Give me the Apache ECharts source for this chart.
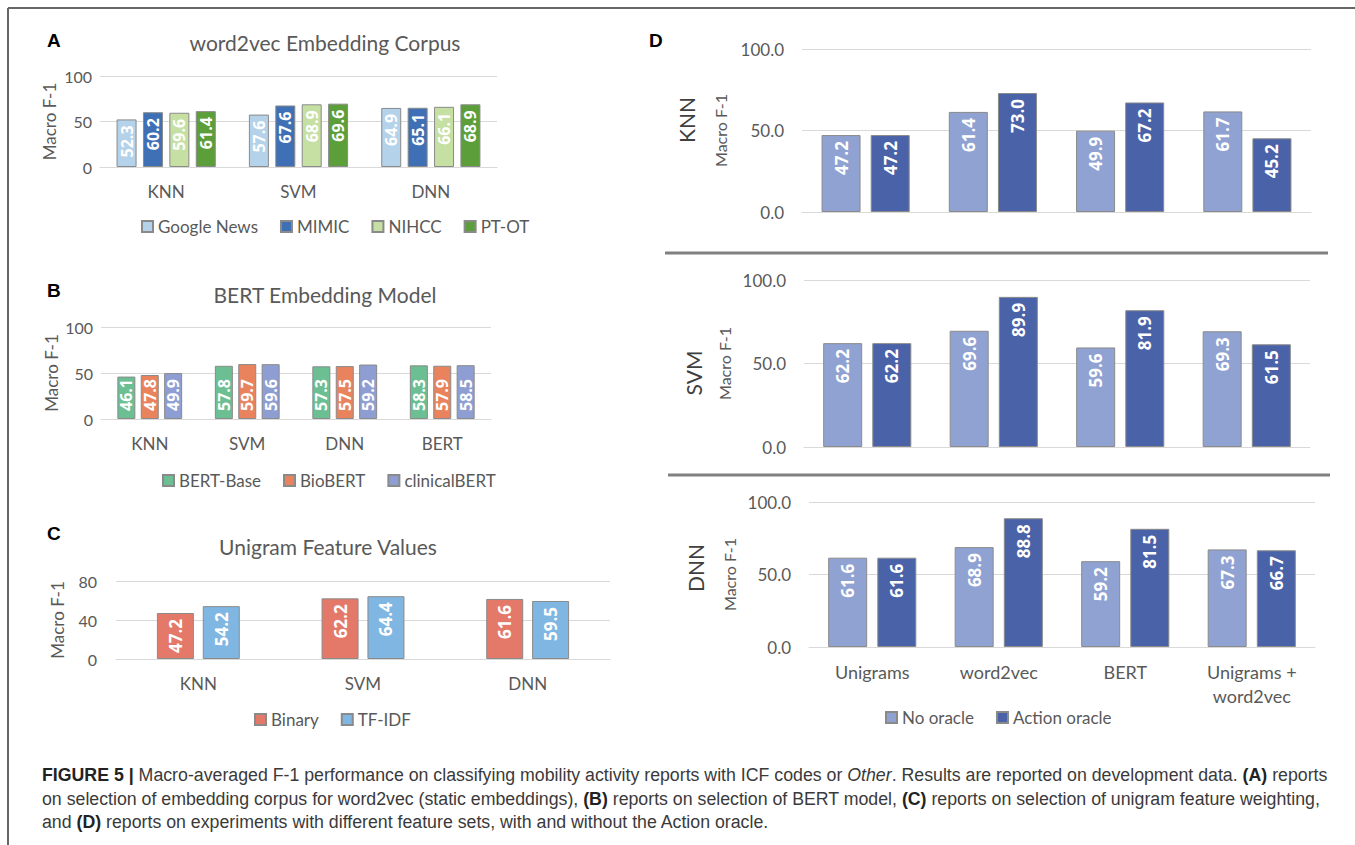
<!DOCTYPE html>
<html>
<head>
<meta charset="utf-8">
<script src="https://cdn.jsdelivr.net/npm/echarts@6/dist/echarts.min.js"></script>
<style>
  html, body { margin: 0; padding: 0; background: #fff; }
  #wrap { position: relative; width: 1355px; height: 845px; overflow: hidden; }
  #chart { position: absolute; left: 0; top: 0; width: 1355px; height: 845px; }
  #caption { position: absolute; left: 42px; top: 764px; font-family: "Liberation Sans", Arial, sans-serif;
             color: #3a3a3a; font-size: 16px; line-height: 23.5px; }
  #caption div { white-space: nowrap; }
  #caption b { font-weight: bold; color: #222; }
</style>
</head>
<body>
<div id="wrap">
  <div id="chart"></div>
  <div id="caption">
    <div id="capLine1"><b>FIGURE 5 |</b> Macro-averaged F-1 performance on classifying mobility activity reports with ICF codes or <i>Other</i>. Results are reported on development data. <b>(A)</b> reports</div>
    <div>on selection of embedding corpus for word2vec (static embeddings), <b>(B)</b> reports on selection of BERT model, <b>(C)</b> reports on selection of unigram feature weighting,</div>
    <div>and <b>(D)</b> reports on experiments with different feature sets, with and without the Action oracle.</div>
  </div>
</div>
<script>
// ---------- DATA ----------
const A_categories = ['KNN', 'SVM', 'DNN'];
const A_googleNews = [52.3, 57.6, 64.9];
const A_mimic      = [60.2, 67.6, 65.1];
const A_nihcc      = [59.6, 68.9, 66.1];
const A_ptot       = [61.4, 69.6, 68.9];
const A_yTicks     = [0, 50, 100];

const B_categories   = ['KNN', 'SVM', 'DNN', 'BERT'];
const B_bertBase     = [46.1, 57.8, 57.3, 58.3];
const B_bioBert      = [47.8, 59.7, 57.5, 57.9];
const B_clinicalBert = [49.9, 59.6, 59.2, 58.5];
const B_yTicks       = [0, 50, 100];

const C_categories = ['KNN', 'SVM', 'DNN'];
const C_binary     = [47.2, 62.2, 61.6];
const C_tfidf      = [54.2, 64.4, 59.5];
const C_yTicks     = [0, 40, 80];

const D_categories     = ['Unigrams', 'word2vec', 'BERT', 'Unigrams +\nword2vec'];
const D_knn_noOracle   = [47.2, 61.4, 49.9, 61.7];
const D_knn_action     = [47.2, 73.0, 67.2, 45.2];
const D_svm_noOracle   = [62.2, 69.6, 59.6, 69.3];
const D_svm_action     = [62.2, 89.9, 81.9, 61.5];
const D_dnn_noOracle   = [61.6, 68.9, 59.2, 67.3];
const D_dnn_action     = [61.6, 88.8, 81.5, 66.7];
const D_yTicks         = [0, 50, 100];
const D_rowNames       = ['KNN', 'SVM', 'DNN'];

// ---------- STYLE ----------
const FONT = 'Lato';
const TXT = '#595959';
const GRIDC = '#d9d9d9';
const BORDER = '#8a8a8a';

const grids = [
  { left: 100, top: 76,  width: 397, height: 91 },   // A
  { left: 101, top: 327, width: 390, height: 92 },   // B
  { left: 116, top: 581, width: 494, height: 78 },   // C
  { left: 802, top: 49,  width: 509, height: 163 },  // D KNN
  { left: 804, top: 280, width: 506, height: 167 },  // D SVM
  { left: 809, top: 502, width: 506, height: 145 }   // D DNN
];
const yLabelMargin = [8, 8, 19, 18, 18, 18];

function xAx(i, cats, show) {
  return {
    type: 'category', gridIndex: i, data: cats,
    axisLine: { show: true, lineStyle: { color: GRIDC, width: 1 } },
    axisTick: { show: false },
    axisLabel: { show: show, color: TXT, fontFamily: FONT, fontSize: (i >= 3 ? 18 : 17), margin: (i >= 3 ? 13 : 12), lineHeight: 24, interval: 0 }
  };
}
function yAx(i, ticks, nameGap, fmt, fs) {
  return {
    type: 'value', gridIndex: i, min: ticks[0], max: ticks[ticks.length - 1], interval: ticks[1] - ticks[0],
    name: 'Macro F-1', nameLocation: 'middle', nameRotate: 90, nameGap: nameGap,
    nameTextStyle: { color: TXT, fontFamily: FONT, fontSize: fs || 17 },
    axisLine: { show: false }, axisTick: { show: false },
    splitLine: { lineStyle: { color: GRIDC, width: 1 } },
    axisLabel: { color: TXT, fontFamily: FONT, fontSize: (i >= 3 ? 17 : 16), margin: yLabelMargin[i], formatter: fmt }
  };
}

function bar(name, data, gi, color, bw, gap, labelPos, fs) {
  const top = labelPos === 'top';
  return {
    type: 'bar', name: name, data: data, xAxisIndex: gi, yAxisIndex: gi,
    barWidth: bw, barGap: gap,
    itemStyle: { color: color, borderColor: BORDER, borderWidth: 1 },
    label: {
      show: true, position: top ? 'insideTop' : 'insideBottom', distance: top ? 6 : 8,
      rotate: 90, align: top ? 'right' : 'left', verticalAlign: 'middle',
      color: '#ffffff', fontFamily: 'Open Sans', fontWeight: 'bold', fontSize: fs,
      formatter: p => p.value.toFixed(1)
    },
    emphasis: { disabled: true }
  };
}

const colA = ['#b4d2e9', '#3f70b5', '#c6e0a4', '#5c9e3a'];
const colB = ['#6cbe93', '#e9835d', '#8e9ed2'];
const colC = ['#e4796a', '#7fb6e2'];
const colD = ['#8fa2d2', '#4a62a8'];

const series = [
  bar('Google News', A_googleNews, 0, colA[0], 20, '32%', 'top', 16),
  bar('MIMIC',       A_mimic,      0, colA[1], 20, '32%', 'top', 16),
  bar('NIHCC',       A_nihcc,      0, colA[2], 20, '32%', 'top', 16),
  bar('PT-OT',       A_ptot,       0, colA[3], 20, '32%', 'top', 16),
  bar('BERT-Base',    B_bertBase,     1, colB[0], 18, '30%', 'bottom', 16),
  bar('BioBERT',      B_bioBert,      1, colB[1], 18, '30%', 'bottom', 16),
  bar('clinicalBERT', B_clinicalBert, 1, colB[2], 18, '30%', 'bottom', 16),
  bar('Binary', C_binary, 2, colC[0], 37, '24%', 'top', 17),
  bar('TF-IDF', C_tfidf,  2, colC[1], 37, '24%', 'top', 17),
  bar('No oracle',     D_knn_noOracle, 3, colD[0], 39, '26%', 'top', 17),
  bar('Action oracle', D_knn_action,   3, colD[1], 39, '26%', 'top', 17),
  bar('No oracle',     D_svm_noOracle, 4, colD[0], 39, '26%', 'top', 17),
  bar('Action oracle', D_svm_action,   4, colD[1], 39, '26%', 'top', 17),
  bar('No oracle',     D_dnn_noOracle, 5, colD[0], 39, '26%', 'top', 17),
  bar('Action oracle', D_dnn_action,   5, colD[1], 39, '26%', 'top', 17)
];

function legend(names, left, top) {
  return {
    data: names, left: left, top: top, orient: 'horizontal', padding: 0,
    icon: 'rect', itemWidth: 11, itemHeight: 11, itemGap: 22, selectedMode: false,
    textStyle: { color: TXT, fontFamily: FONT, fontSize: 17 }
  };
}
function title(text, cx, top) {
  return { text: text, left: cx, top: top, textAlign: 'center', padding: 0,
           textStyle: { color: TXT, fontFamily: FONT, fontSize: 21, fontWeight: 'normal' } };
}
function letter(t, x, y) {
  return { type: 'text', x: x, y: y, style: { text: t, fill: '#000', font: 'bold 19px "Liberation Sans"', align: 'left', verticalAlign: 'middle' } };
}
function rowName(t, x, y) {
  return { type: 'text', x: x, y: y, rotation: Math.PI / 2,
           style: { text: t, fill: '#404040', font: '21px Lato', align: 'center', verticalAlign: 'middle' } };
}
function hline(x1, y, x2, color, w) {
  return { type: 'line', shape: { x1: x1, y1: y, x2: x2, y2: y }, style: { stroke: color, lineWidth: w } };
}
function vline(x, y1, y2, color, w) {
  return { type: 'line', shape: { x1: x, y1: y1, x2: x, y2: y2 }, style: { stroke: color, lineWidth: w } };
}

const fmt1 = v => v.toFixed(1);

const option = {
  animation: false,
  backgroundColor: '#ffffff',
  title: [
    title('word2vec Embedding Corpus', 325, 32),
    title('BERT Embedding Model', 325, 284),
    title('Unigram Feature Values', 328, 536)
  ],
  legend: [
    legend(['Google News', 'MIMIC', 'NIHCC', 'PT-OT'], 141, 218),
    legend(['BERT-Base', 'BioBERT', 'clinicalBERT'], 162, 472),
    legend(['Binary', 'TF-IDF'], 254, 711),
    legend(['No oracle', 'Action oracle'], 885, 709)
  ],
  grid: grids,
  xAxis: [
    xAx(0, A_categories, true), xAx(1, B_categories, true), xAx(2, C_categories, true),
    xAx(3, D_categories, false), xAx(4, D_categories, false), xAx(5, D_categories, true)
  ],
  yAxis: [
    yAx(0, A_yTicks, 42), yAx(1, B_yTicks, 41), yAx(2, C_yTicks, 50),
    yAx(3, D_yTicks, 74, fmt1, 16), yAx(4, D_yTicks, 72, fmt1, 16), yAx(5, D_yTicks, 72, fmt1, 16)
  ],
  series: series,
  graphic: [
    hline(8, 8, 1355, '#666666', 2),
    vline(8, 8, 845, '#666666', 2),
    letter('A', 47, 40), letter('B', 47, 290), letter('C', 47, 533), letter('D', 649, 40),
    rowName(D_rowNames[0], 686, 120), rowName(D_rowNames[1], 693, 373), rowName(D_rowNames[2], 695, 568),
    hline(665, 253, 1328, '#808080', 3),
    hline(668, 475, 1330, '#808080', 3)
  ]
};

const chart = echarts.init(document.getElementById('chart'), null, { renderer: 'svg' });
chart.setOption(option);

// fit caption so the first line spans the measured width
(function fitCaption() {
  const cap = document.getElementById('caption');
  const l1 = document.getElementById('capLine1');
  const r = document.createRange(); r.selectNodeContents(l1);
  const w = r.getBoundingClientRect().width;
  if (w > 0) cap.style.fontSize = (16 * 1286 / w).toFixed(2) + 'px';
})();
</script>
</body>
</html>
